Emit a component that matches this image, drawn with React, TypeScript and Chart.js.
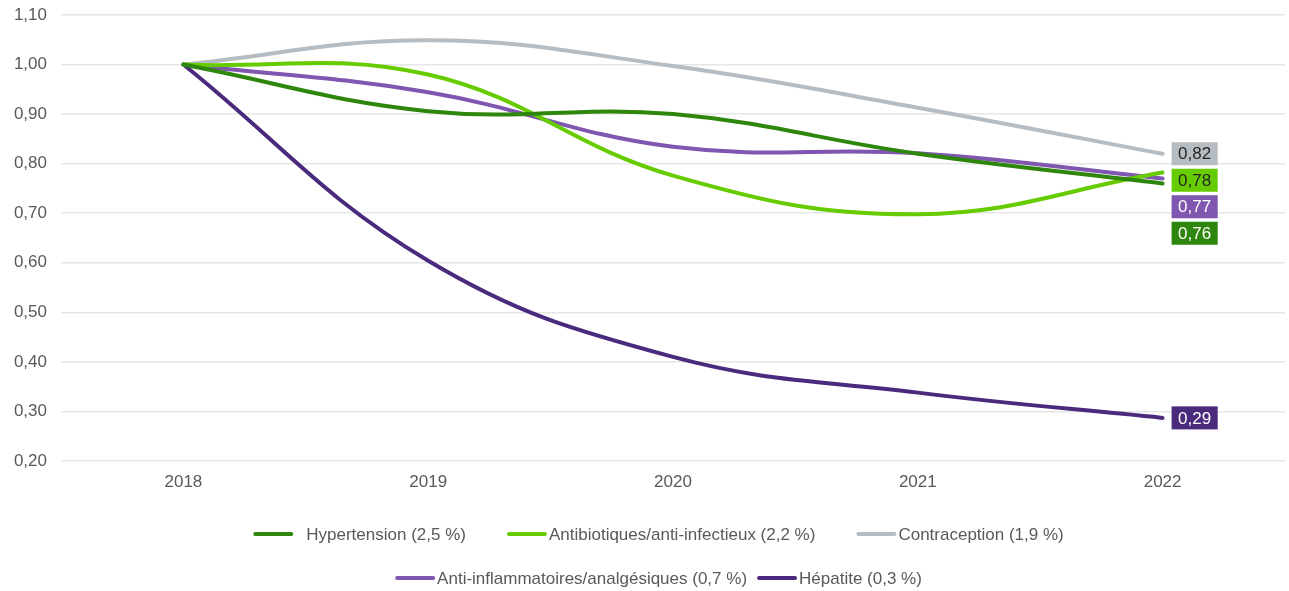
import React, { useEffect, useRef } from "react";
import { Chart, registerables } from "chart.js";

Chart.register(...registerables);

const years = ["2018", "2019", "2020", "2021", "2022"];
const yTicks = [0.2, 0.3, 0.4, 0.5, 0.6, 0.7, 0.8, 0.9, 1.0, 1.1];

const seriesNames = [
  "Hypertension (2,5 %)",
  "Antibiotiques/anti-infectieux (2,2 %)",
  "Contraception (1,9 %)",
  "Anti-inflammatoires/analgésiques (0,7 %)",
  "Hépatite (0,3 %)",
];
const hypertension = [1.0, 0.906, 0.9, 0.82, 0.76];
const antibiotiques = [1.0, 0.98, 0.776, 0.698, 0.782];
const contraception = [1.0, 1.049, 0.997, 0.913, 0.82];
const antiInflammatoires = [1.0, 0.944, 0.834, 0.821, 0.77];
const hepatite = [1.0, 0.604, 0.41, 0.338, 0.287];

const seriesColors = ["#2e870c", "#66cc00", "#b5bcc2", "#7f56b0", "#4a2a7c"];
const labelTextColors = ["#ffffff", "#262626", "#262626", "#ffffff", "#ffffff"];
const legendRows = [[0, 1, 2], [3, 4]];
const legendRowGaps = [41, 10];
const legendTextGaps = [13, 2, 2, 2, 2];

const FONT = "'Liberation Sans', Arial, sans-serif";
const TEXT = "#595959";

const fmt = (v: number) => v.toFixed(2).replace(".", ",");

const endLabels = {
  id: "endLabels",
  afterDatasetsDraw(chart: any) {
    const ctx = chart.ctx;
    const items: any[] = [];
    chart.data.datasets.forEach((ds: any, i: number) => {
      const meta = chart.getDatasetMeta(i);
      const pt = meta.data[meta.data.length - 1];
      items.push({ i, x: pt.x, y: pt.y, v: ds.data[ds.data.length - 1] });
    });
    items.sort((a, b) => a.y - b.y);
    const h = 23;
    const step = 26.5;
    let prev = -Infinity;
    ctx.save();
    ctx.font = `17px ${FONT}`;
    ctx.textBaseline = "middle";
    ctx.textAlign = "left";
    for (const it of items) {
      const cy = Math.max(it.y, prev + step);
      prev = cy;
      const text = fmt(it.v);
      const w = ctx.measureText(text).width + 13;
      const left = it.x + 9;
      ctx.fillStyle = seriesColors[it.i];
      ctx.fillRect(left, cy - h / 2, w, h);
      ctx.fillStyle = labelTextColors[it.i];
      ctx.fillText(text, left + 6.5, cy + 1);
    }
    ctx.restore();
  },
};

const customLegend = {
  id: "customLegend",
  afterDraw(chart: any) {
    const ctx = chart.ctx;
    const lineLen = 40;
    const cx = chart.width / 2 + 14;
    const rowYs = [chart.chartArea.bottom + 73, chart.chartArea.bottom + 117];
    ctx.save();
    ctx.font = `17px ${FONT}`;
    ctx.textBaseline = "middle";
    ctx.textAlign = "left";
    legendRows.forEach((row, r) => {
      const itemGap = legendRowGaps[r];
      const widths = row.map(
        (i) => lineLen + legendTextGaps[i] + ctx.measureText(seriesNames[i]).width
      );
      const total = widths.reduce((a, b) => a + b, 0) + itemGap * (row.length - 1);
      let x = cx - total / 2;
      const y = rowYs[r];
      row.forEach((i, k) => {
        ctx.strokeStyle = seriesColors[i];
        ctx.lineWidth = 4;
        ctx.lineCap = "round";
        ctx.beginPath();
        ctx.moveTo(x + 2, y);
        ctx.lineTo(x + lineLen - 2, y);
        ctx.stroke();
        ctx.fillStyle = TEXT;
        ctx.fillText(seriesNames[i], x + lineLen + legendTextGaps[i], y + 1);
        x += widths[k] + itemGap;
      });
    });
    ctx.restore();
  },
};

export default function App() {
  const ref = useRef<HTMLCanvasElement>(null);
  useEffect(() => {
    if (!ref.current) return;
    const allSeries = [hypertension, antibiotiques, contraception, antiInflammatoires, hepatite];
    const chart = new Chart(ref.current, {
      type: "line",
      data: {
        labels: years,
        datasets: allSeries.map((d, i) => ({
          label: seriesNames[i],
          data: d,
          borderColor: seriesColors[i],
          backgroundColor: seriesColors[i],
          borderWidth: 4,
          pointRadius: 0,
          tension: 0.4,
          fill: false,
          borderCapStyle: "round",
        })),
      },
      options: {
        animation: false,
        responsive: true,
        maintainAspectRatio: false,
        layout: { padding: { top: 15, right: 4, left: 0, bottom: 0 } },
        plugins: { legend: { display: false }, tooltip: { enabled: false } },
        scales: {
          x: {
            type: "category",
            offset: true,
            grid: { display: false, drawTicks: false },
            border: { display: false },
            ticks: { color: TEXT, font: { family: FONT, size: 17 }, padding: 11 },
            afterFit(scale: any) {
              scale.height = 130;
              scale.paddingLeft = 0;
              scale.paddingRight = 0;
            },
          },
          y: {
            min: 0.2,
            max: 1.1,
            grid: { color: "#e6e6e6", lineWidth: 1.5, drawTicks: false },
            border: { display: false },
            afterBuildTicks(scale: any) {
              scale.ticks = yTicks.map((v) => ({ value: v }));
            },
            ticks: {
              color: TEXT,
              font: { family: FONT, size: 17 },
              padding: 14,
              callback: (v: any) => fmt(Number(v)),
            },
            afterFit(scale: any) {
              scale.width = 61;
              scale.paddingTop = 0;
              scale.paddingBottom = 0;
            },
          },
        },
      },
      plugins: [endLabels, customLegend],
    });
    return () => chart.destroy();
  }, []);
  return (
    <div style={{ position: "absolute", left: 0, top: 0, width: 1289, height: 591 }}>
      <canvas ref={ref} />
    </div>
  );
}
